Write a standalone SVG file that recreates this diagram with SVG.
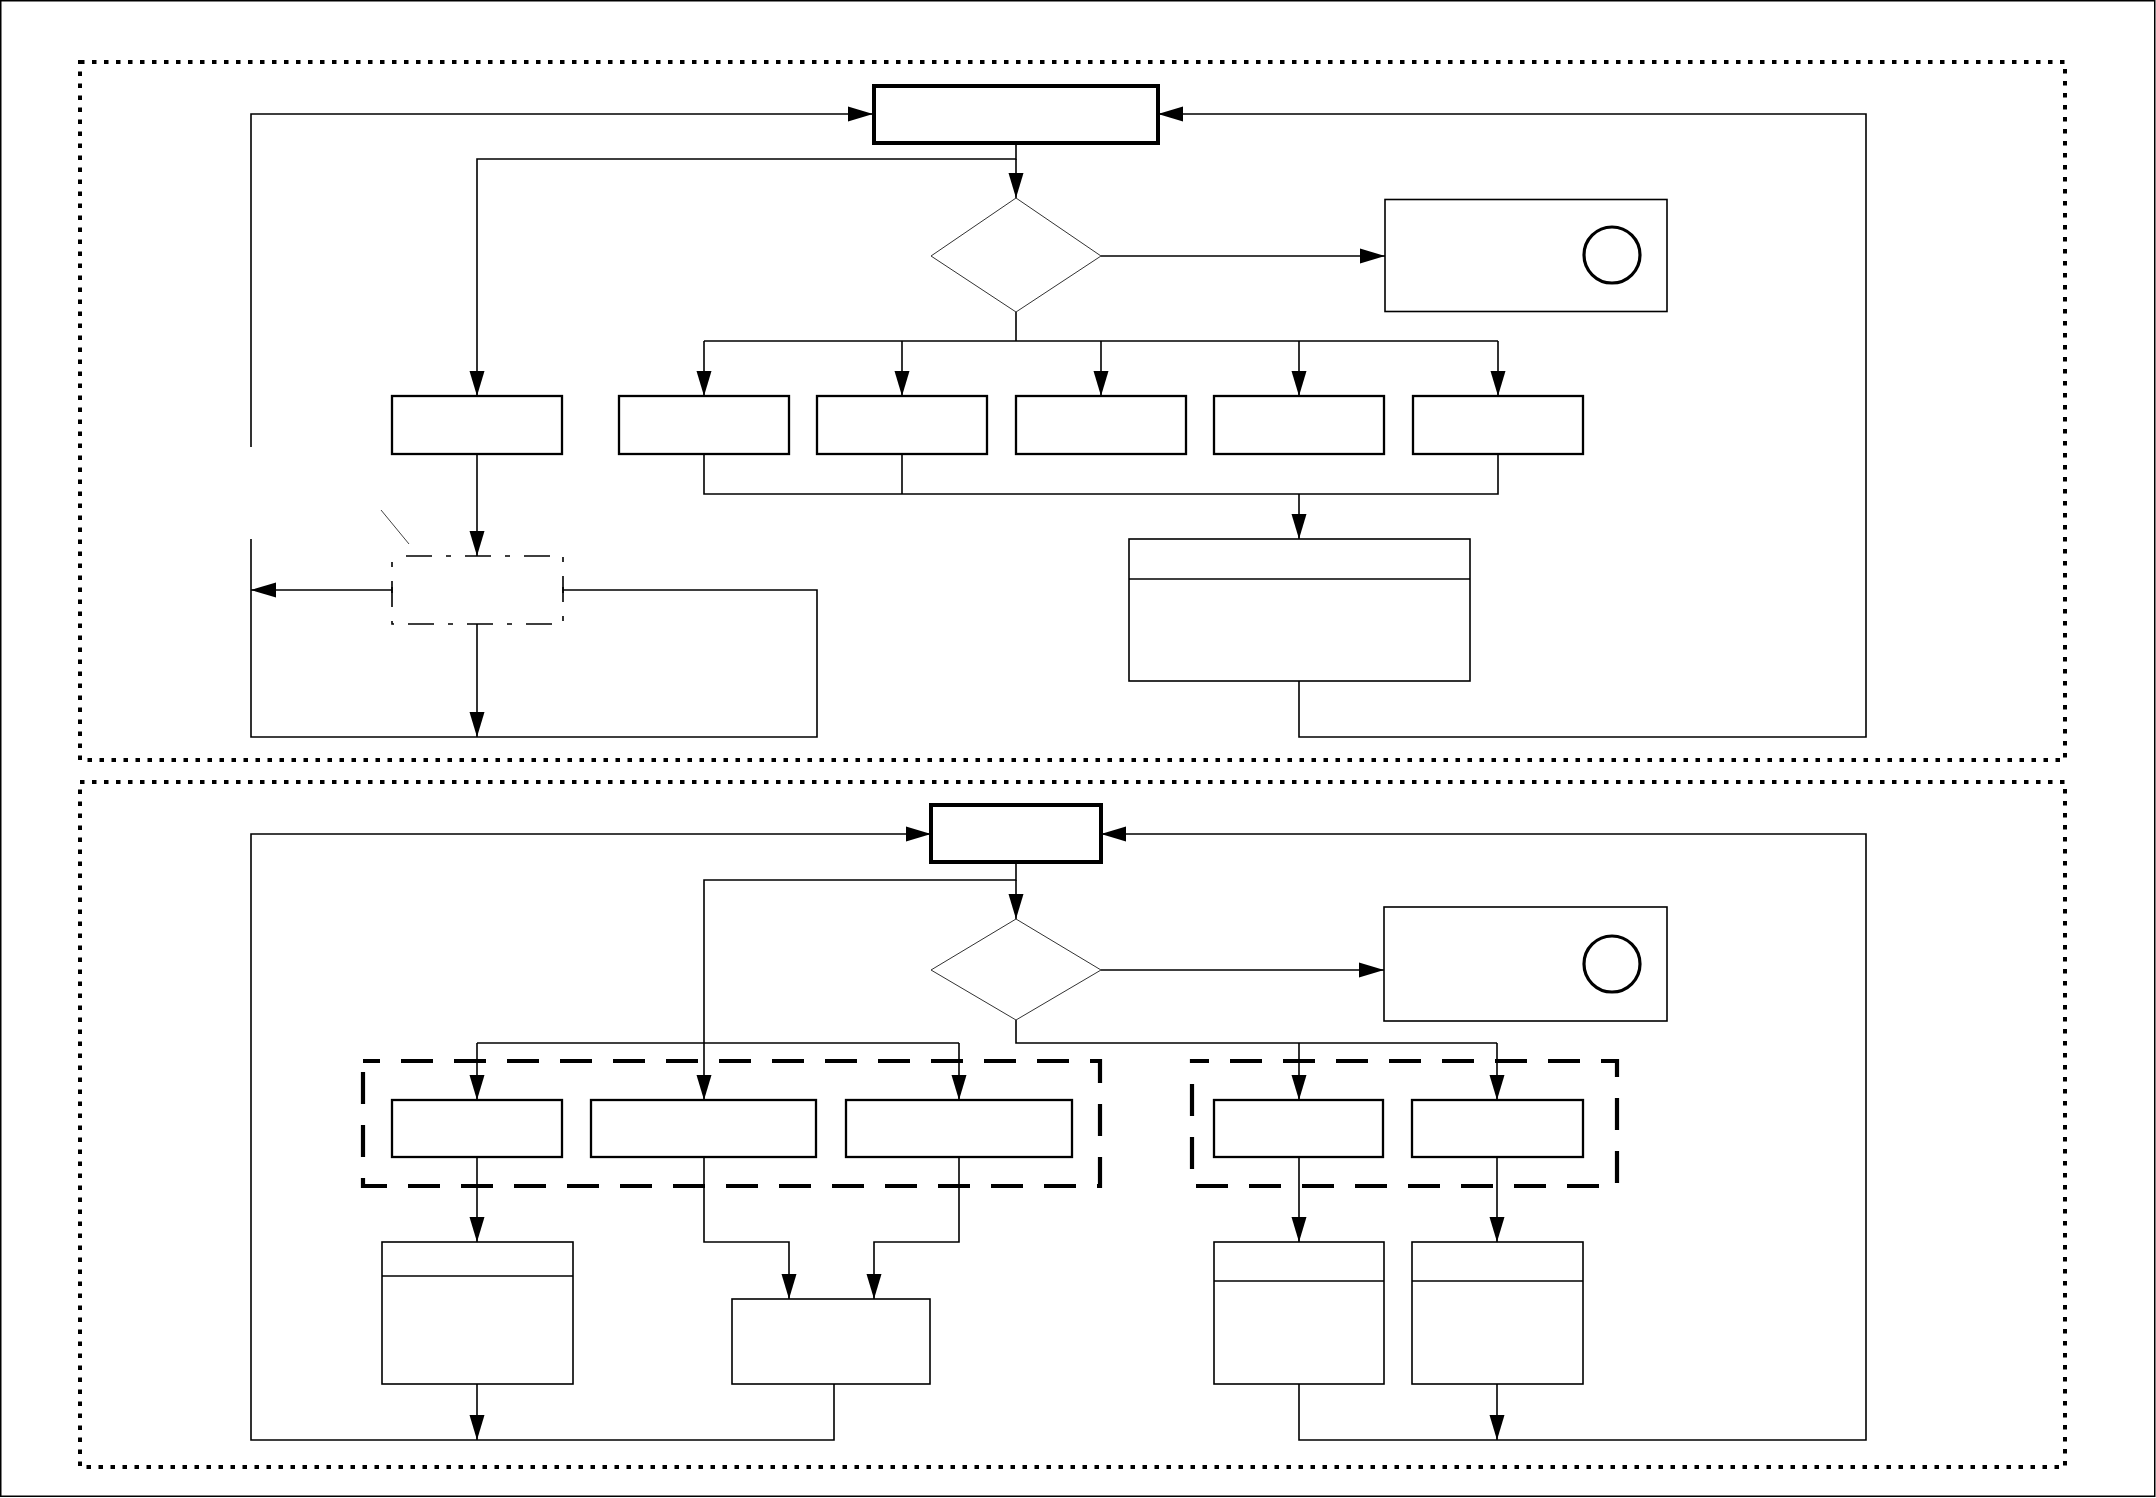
<svg xmlns="http://www.w3.org/2000/svg" width="2156" height="1498" viewBox="0 0 2156 1498">
<style>
.frame{fill:none;stroke:#000;stroke-width:4;stroke-dasharray:4.5 7.5}
.start{fill:#fff;stroke:#000;stroke-width:4}
.box{fill:#fff;stroke:#000;stroke-width:2.3}
.tbl{fill:#fff;stroke:#000;stroke-width:1.6}
.dec{fill:#fff;stroke:#333;stroke-width:1}
.grp{fill:none;stroke:#000;stroke-width:4.2;stroke-dasharray:32 21;stroke-dashoffset:15}
.dd{fill:none;stroke:#000;stroke-width:1.6;stroke-dasharray:26 14 5 14;stroke-dashoffset:-14}
.c{fill:none;stroke:#000;stroke-width:1.6}
.a{marker-end:url(#ah)}
.circ{fill:none;stroke:#000;stroke-width:3.2}
</style>
<defs>
<marker id="ah" markerUnits="userSpaceOnUse" markerWidth="26" markerHeight="16" refX="25" refY="8" orient="auto"><path d="M0,0.5 L25,8 L0,15.5 z" fill="#000"/></marker>
</defs>
<rect x="0" y="0" width="2156" height="1498" fill="#fff"/>
<rect x="0.75" y="0.75" width="2154" height="1495.5" fill="none" stroke="#000" stroke-width="1.5"/>
<rect class="frame" x="80" y="62" width="1985" height="698"/>
<rect class="frame" x="80" y="782" width="1985" height="685"/>

<g id="connectors">
<!-- top section -->
<path class="c a" d="M1016,143 V159 H477 V396"/>
<path class="c a" d="M1016,159 V198"/>
<path class="c a" d="M1101,256 H1385"/>
<path class="c" d="M1016,312 V341 M704,341 H1498"/>
<path class="c a" d="M704,341 V396"/>
<path class="c a" d="M902,341 V396"/>
<path class="c a" d="M1101,341 V396"/>
<path class="c a" d="M1299,341 V396"/>
<path class="c a" d="M1498,341 V396"/>
<path class="c" d="M704,454 V494 H1498 V454 M902,454 V494"/>
<path class="c a" d="M1299,494 V539"/>
<path class="c a" d="M1299,681 V737 H1866 V114 H1158"/>
<path class="c a" d="M477,454 V556"/>
<path class="c a" d="M392,590 H251"/>
<path class="c" d="M392,587 V593 M563,587 V593"/>
<path class="c" d="M563,590 H817 V737 H251 V539"/>
<path class="c a" d="M251,447 V114 H873"/>
<path class="c a" d="M477,624 V737"/>
<path fill="none" stroke="#444" stroke-width="1" d="M381,510 L409,544"/>
<!-- bottom section -->
<path class="c a" d="M1016,862 V880 H704 V1100"/>
<path class="c a" d="M1016,880 V919"/>
<path class="c a" d="M1101,970 H1384"/>
<path class="c" d="M1016,1020 V1043 H1497"/>
<path class="c a" d="M1299,1043 V1100"/>
<path class="c a" d="M1497,1043 V1100"/>
<path class="c" d="M477,1043 H959"/>
<path class="c a" d="M477,1043 V1100"/>
<path class="c a" d="M959,1043 V1100"/>
<path class="c a" d="M477,1157 V1242"/>
<path class="c a" d="M704,1157 V1242 H789 V1299"/>
<path class="c a" d="M959,1157 V1242 H874 V1299"/>
<path class="c a" d="M834,1384 V1440 H251 V834 H931"/>
<path class="c a" d="M477,1384 V1440"/>
<path class="c a" d="M1299,1157 V1242"/>
<path class="c a" d="M1497,1157 V1242"/>
<path class="c a" d="M1299,1384 V1440 H1866 V834 H1101"/>
<path class="c a" d="M1497,1384 V1440"/>
</g>

<g id="start1"><rect class="start" x="874" y="86" width="284" height="57"/></g>
<g id="decision1"><path class="dec" d="M1016,198 L1101,256 L1016,312 L931,256 Z"/></g>
<g id="end1"><rect class="tbl" x="1385" y="199.5" width="282" height="112"/><circle class="circ" cx="1612" cy="255" r="28"/></g>
<g id="box1a"><rect class="box" x="392" y="396" width="170" height="58"/></g>
<g id="box1b"><rect class="box" x="619" y="396" width="170" height="58"/></g>
<g id="box1c"><rect class="box" x="817" y="396" width="170" height="58"/></g>
<g id="box1d"><rect class="box" x="1016" y="396" width="170" height="58"/></g>
<g id="box1e"><rect class="box" x="1214" y="396" width="170" height="58"/></g>
<g id="box1f"><rect class="box" x="1413" y="396" width="170" height="58"/></g>
<g id="ddbox"><rect class="dd" x="392" y="556" width="171" height="68"/></g>
<g id="table1"><rect class="tbl" x="1129" y="539" width="341" height="142"/><line class="c" x1="1129" y1="579" x2="1470" y2="579"/></g>

<g id="start2"><rect class="start" x="931" y="805" width="170" height="57"/></g>
<g id="decision2"><path class="dec" d="M1016,919 L1101,970 L1016,1020 L931,970 Z"/></g>
<g id="end2"><rect class="tbl" x="1384" y="907" width="283" height="114"/><circle class="circ" cx="1612" cy="964" r="28"/></g>
<g id="group1"><rect class="grp" x="363" y="1061" width="737" height="125"/></g>
<g id="group2"><rect class="grp" x="1192" y="1061" width="425" height="125"/></g>
<g id="box2a"><rect class="box" x="392" y="1100" width="170" height="57"/></g>
<g id="box2b"><rect class="box" x="591" y="1100" width="225" height="57"/></g>
<g id="box2c"><rect class="box" x="846" y="1100" width="226" height="57"/></g>
<g id="box2d"><rect class="box" x="1214" y="1100" width="169" height="57"/></g>
<g id="box2e"><rect class="box" x="1412" y="1100" width="171" height="57"/></g>
<g id="table2a"><rect class="tbl" x="382" y="1242" width="191" height="142"/><line class="c" x1="382" y1="1276" x2="573" y2="1276"/></g>
<g id="box2f"><rect class="tbl" x="732" y="1299" width="198" height="85"/></g>
<g id="table2b"><rect class="tbl" x="1214" y="1242" width="170" height="142"/><line class="c" x1="1214" y1="1281" x2="1384" y2="1281"/></g>
<g id="table2c"><rect class="tbl" x="1412" y="1242" width="171" height="142"/><line class="c" x1="1412" y1="1281" x2="1583" y2="1281"/></g>
</svg>
